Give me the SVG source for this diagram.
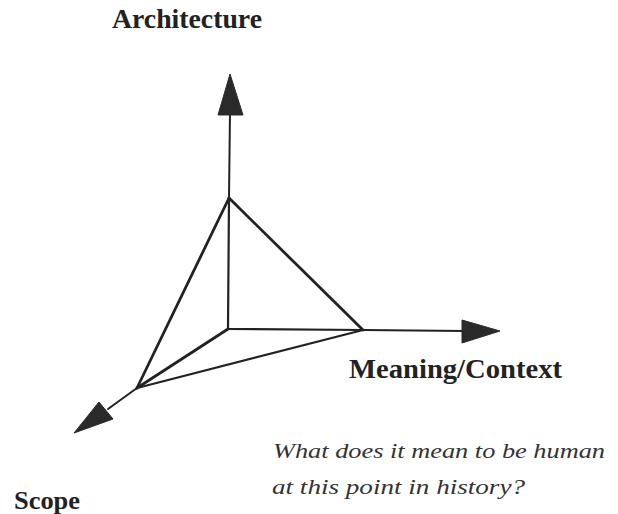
<svg xmlns="http://www.w3.org/2000/svg" width="618" height="514" viewBox="0 0 618 514">
  <style>
    .axis { stroke: #222; stroke-width: 2; fill: none; stroke-linecap: round; }
    .edge { stroke: #222; stroke-width: 2.8; fill: none; stroke-linejoin: round; stroke-linecap: round; }
    .thin { stroke: #222; stroke-width: 2.2; fill: none; stroke-linecap: round; }
    .head { fill: #2a2a2a; stroke: #2a2a2a; stroke-width: 1; stroke-linejoin: round; }
    .lbl { font-family: "Liberation Serif", "DejaVu Serif", serif; font-weight: bold; fill: #222; }
    .note { font-family: "Liberation Serif", "DejaVu Serif", serif; font-style: italic; fill: #333; font-size: 22px; }
  </style>
  <rect width="618" height="514" fill="#ffffff"/>
  <g id="connectors">
    <line class="axis" x1="229" y1="198" x2="230" y2="112"/>
    <polygon class="head" points="230,74 218,115 243,115"/>
    <line class="axis" x1="363" y1="330" x2="465" y2="331"/>
    <polygon class="head" points="500,331 462,320 462,343"/>
    <line class="axis" x1="137" y1="388" x2="108" y2="409"/>
    <polygon class="head" points="74,433 99,402 113,419"/>
  </g>
  <g id="tetrahedron">
    <line class="thin" x1="229" y1="198" x2="228" y2="329"/>
    <line class="thin" x1="228" y1="329" x2="363" y2="330"/>
    <line class="edge" x1="229" y1="198" x2="363" y2="330"/>
    <line class="edge" x1="229" y1="198" x2="137" y2="388"/>
    <line class="edge" x1="228" y1="329" x2="137" y2="388"/>
    <line class="thin" x1="363" y1="330" x2="137" y2="388"/>
  </g>
  <g id="architecture">
    <text class="lbl" x="112" y="28" font-size="27" textLength="150" lengthAdjust="spacingAndGlyphs">Architecture</text>
  </g>
  <g id="meaning-context">
    <text class="lbl" x="349" y="378" font-size="28" textLength="213" lengthAdjust="spacingAndGlyphs">Meaning/Context</text>
  </g>
  <g id="scope">
    <text class="lbl" x="14" y="509" font-size="26" textLength="66" lengthAdjust="spacingAndGlyphs">Scope</text>
  </g>
  <g id="question">
    <text class="note" x="273" y="458" textLength="332" lengthAdjust="spacingAndGlyphs">What does it mean to be human</text>
    <text class="note" x="272" y="494" textLength="253" lengthAdjust="spacingAndGlyphs">at this point in history?</text>
  </g>
</svg>
